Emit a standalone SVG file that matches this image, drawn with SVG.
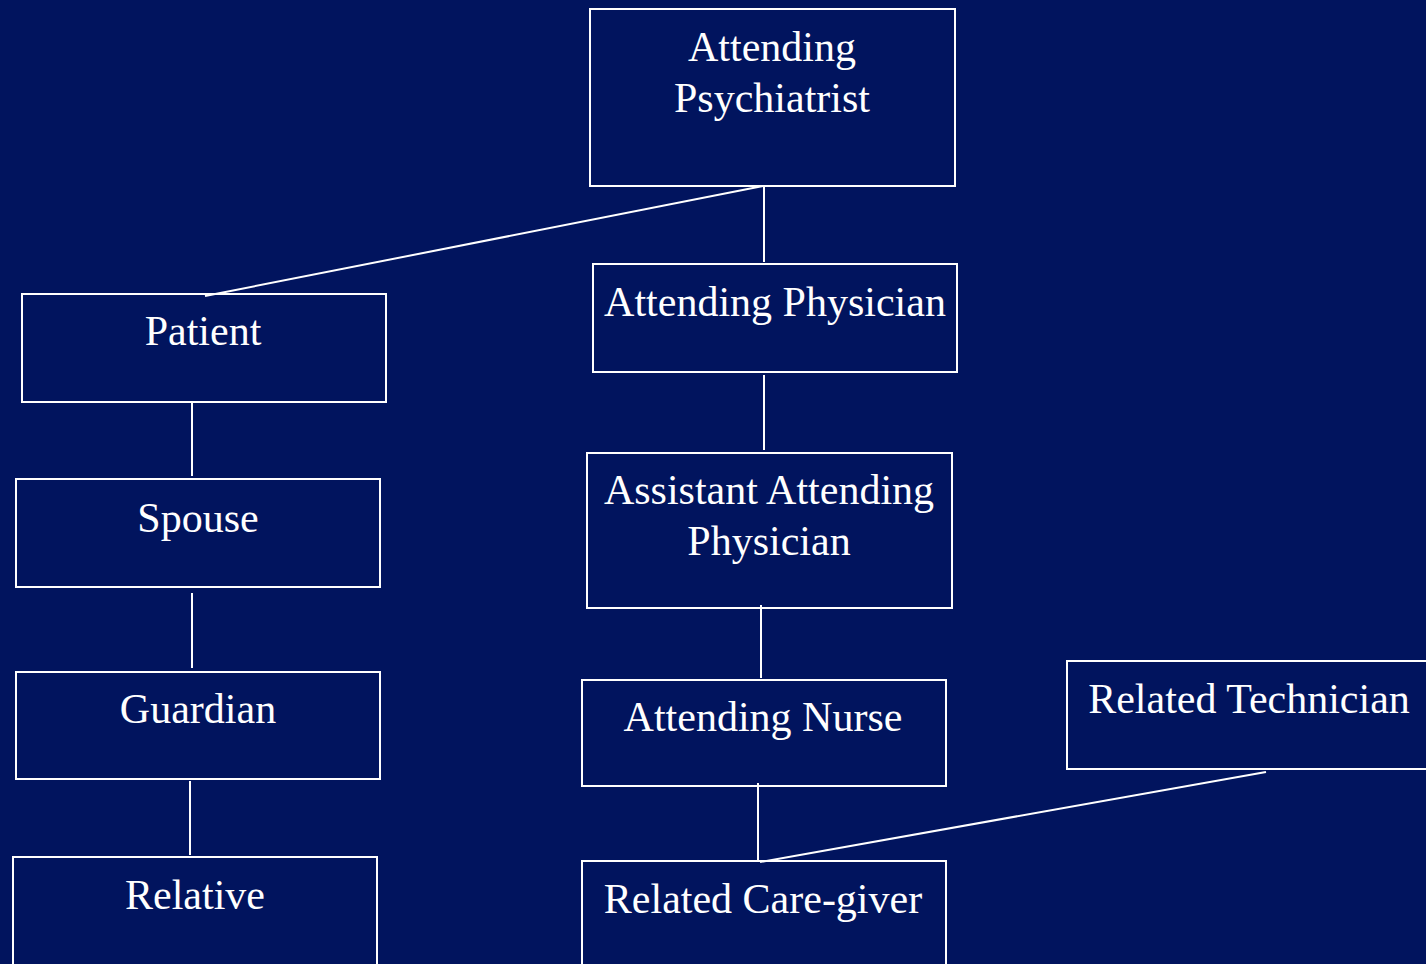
<svg xmlns="http://www.w3.org/2000/svg" width="1426" height="964" viewBox="0 0 1426 964">
  <style>
    .box { fill: none; stroke: #ffffff; stroke-width: 2; }
    .link { stroke: #ffffff; stroke-width: 2; fill: none; }
    .label { font-family: "Liberation Serif", "Times New Roman", serif; font-size: 42px; fill: #ffffff; text-anchor: middle; }
  </style>
  <rect width="1426" height="964" fill="#01145e"/>

  <!-- connectors -->
  <g id="connectors">
    <line class="link" x1="763" y1="186" x2="205" y2="296"/>
    <line class="link" x1="764" y1="186" x2="764" y2="262"/>
    <line class="link" x1="192" y1="403" x2="192" y2="476"/>
    <line class="link" x1="192" y1="593" x2="192" y2="668"/>
    <line class="link" x1="190" y1="781" x2="190" y2="855"/>
    <line class="link" x1="764" y1="375" x2="764" y2="450"/>
    <line class="link" x1="761" y1="605" x2="761" y2="678"/>
    <line class="link" x1="758" y1="783" x2="758" y2="860"/>
    <line class="link" x1="760" y1="862" x2="1266" y2="772"/>
  </g>

  <g id="attending-psychiatrist">
    <rect class="box" x="590" y="9" width="365" height="177"/>
    <text class="label" x="772" y="61">Attending</text>
    <text class="label" x="772" y="112">Psychiatrist</text>
  </g>

  <g id="attending-physician">
    <rect class="box" x="593" y="264" width="364" height="108"/>
    <text class="label" x="775" y="316">Attending Physician</text>
  </g>

  <g id="assistant-attending-physician">
    <rect class="box" x="587" y="453" width="365" height="155"/>
    <text class="label" x="769" y="504">Assistant Attending</text>
    <text class="label" x="769" y="555">Physician</text>
  </g>

  <g id="attending-nurse">
    <rect class="box" x="582" y="680" width="364" height="106"/>
    <text class="label" x="763" y="731">Attending Nurse</text>
  </g>

  <g id="related-care-giver">
    <rect class="box" x="582" y="861" width="364" height="120"/>
    <text class="label" x="763" y="913">Related Care-giver</text>
  </g>

  <g id="related-technician">
    <rect class="box" x="1067" y="661" width="364" height="108"/>
    <text class="label" x="1249" y="713">Related Technician</text>
  </g>

  <g id="patient">
    <rect class="box" x="22" y="294" width="364" height="108"/>
    <text class="label" x="203" y="345">Patient</text>
  </g>

  <g id="spouse">
    <rect class="box" x="16" y="479" width="364" height="108"/>
    <text class="label" x="198" y="532">Spouse</text>
  </g>

  <g id="guardian">
    <rect class="box" x="16" y="672" width="364" height="107"/>
    <text class="label" x="198" y="723">Guardian</text>
  </g>

  <g id="relative">
    <rect class="box" x="13" y="857" width="364" height="120"/>
    <text class="label" x="195" y="909">Relative</text>
  </g>
</svg>
